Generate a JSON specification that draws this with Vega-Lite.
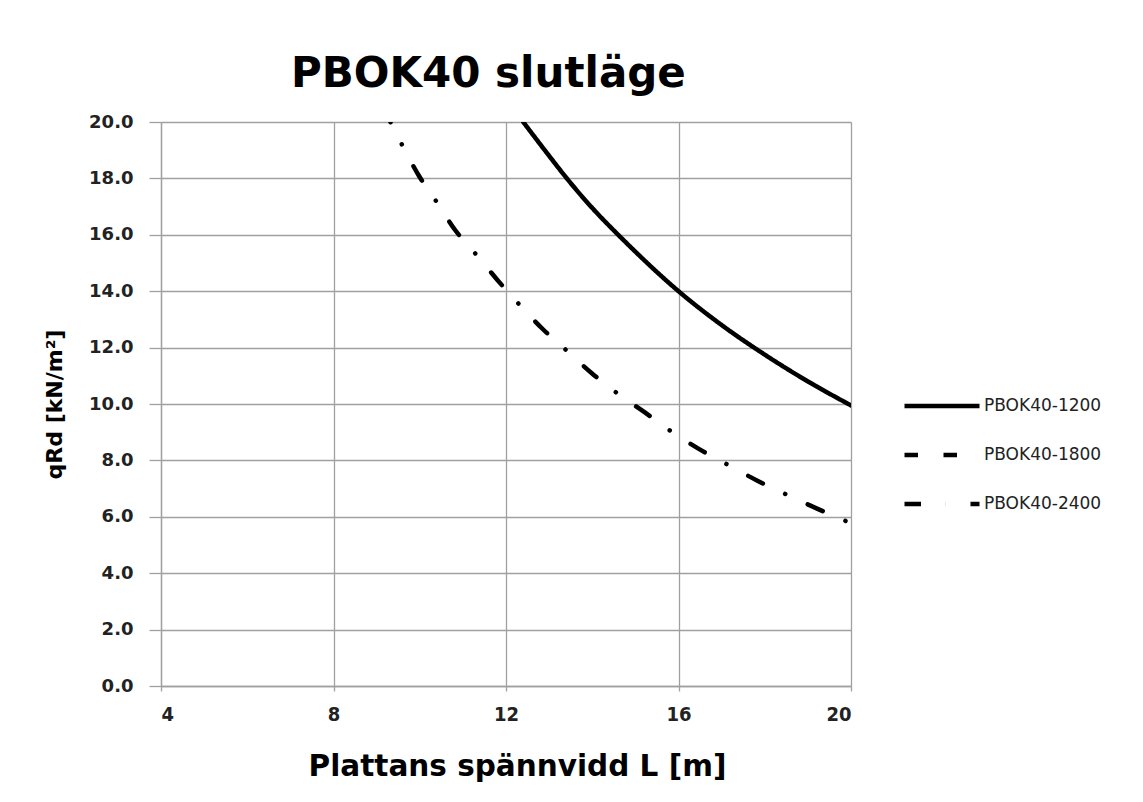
{
  "$schema": "https://vega.github.io/schema/vega-lite/v6.json",
  "width": 690,
  "height": 564,
  "autosize": {"type": "none"},
  "padding": {"left": 161, "top": 122, "right": 292, "bottom": 116},
  "background": "white",
  "title": {
    "text": "PBOK40 slutläge",
    "anchor": "start",
    "frame": "group",
    "dx": 130,
    "font": "DejaVu Sans",
    "fontSize": 42,
    "fontWeight": "bold",
    "color": "black",
    "baseline": "alphabetic",
    "offset": -16
  },
  "data": {
    "values": [
      {"serie": "PBOK40-1200", "L": 12.4, "q": 20.0},
      {"serie": "PBOK40-1200", "L": 13.0, "q": 18.8},
      {"serie": "PBOK40-1200", "L": 13.4, "q": 18.02},
      {"serie": "PBOK40-1200", "L": 14.0, "q": 16.95},
      {"serie": "PBOK40-1200", "L": 14.7, "q": 15.85},
      {"serie": "PBOK40-1200", "L": 15.0, "q": 15.4},
      {"serie": "PBOK40-1200", "L": 16.0, "q": 14.0},
      {"serie": "PBOK40-1200", "L": 17.0, "q": 12.8},
      {"serie": "PBOK40-1200", "L": 18.0, "q": 11.75},
      {"serie": "PBOK40-1200", "L": 19.0, "q": 10.8},
      {"serie": "PBOK40-1200", "L": 20.0, "q": 9.95},
      {"serie": "PBOK40-2400", "L": 9.32, "q": 20.0},
      {"serie": "PBOK40-2400", "L": 9.6, "q": 19.16},
      {"serie": "PBOK40-2400", "L": 9.97, "q": 18.12},
      {"serie": "PBOK40-2400", "L": 10.39, "q": 17.17},
      {"serie": "PBOK40-2400", "L": 10.82, "q": 16.17},
      {"serie": "PBOK40-2400", "L": 11.32, "q": 15.28},
      {"serie": "PBOK40-2400", "L": 11.8, "q": 14.4},
      {"serie": "PBOK40-2400", "L": 12.32, "q": 13.51},
      {"serie": "PBOK40-2400", "L": 12.85, "q": 12.66},
      {"serie": "PBOK40-2400", "L": 13.41, "q": 11.89},
      {"serie": "PBOK40-2400", "L": 13.99, "q": 11.09},
      {"serie": "PBOK40-2400", "L": 14.58, "q": 10.38},
      {"serie": "PBOK40-2400", "L": 15.22, "q": 9.7},
      {"serie": "PBOK40-2400", "L": 15.84, "q": 9.02},
      {"serie": "PBOK40-2400", "L": 16.48, "q": 8.4},
      {"serie": "PBOK40-2400", "L": 17.15, "q": 7.84},
      {"serie": "PBOK40-2400", "L": 17.83, "q": 7.28},
      {"serie": "PBOK40-2400", "L": 18.53, "q": 6.77},
      {"serie": "PBOK40-2400", "L": 19.2, "q": 6.3},
      {"serie": "PBOK40-2400", "L": 19.91, "q": 5.83},
      {"serie": "PBOK40-2400", "L": 20.0, "q": 5.77}
    ]
  },
  "mark": {
    "type": "line",
    "color": "black",
    "strokeWidth": 4.5,
    "strokeCap": "round",
    "interpolate": "monotone",
    "strokeDashOffset": 16.25,
    "clip": true
  },
  "encoding": {
    "x": {
      "field": "L",
      "type": "quantitative",
      "scale": {"domain": [4, 20], "nice": false, "zero": false},
      "axis": {
        "values": [4, 8, 12, 16, 20],
        "title": "Plattans spännvidd L [m]",
        "tickSize": 5,
        "labelPadding": 13,
        "labelFont": "DejaVu Sans Condensed",
        "labelFontSize": 20,
        "labelFontWeight": "bold",
        "titleFont": "DejaVu Sans",
        "titleFontSize": 29.5,
        "titleFontWeight": "bold",
        "titleColor": "black",
        "titlePadding": 28,
        "titleX": 356
      }
    },
    "y": {
      "field": "q",
      "type": "quantitative",
      "scale": {"domain": [0, 20], "nice": false},
      "axis": {
        "values": [0, 2, 4, 6, 8, 10, 12, 14, 16, 18, 20],
        "format": ".1f",
        "title": "qRd [kN/m²]",
        "tickSize": 12,
        "labelPadding": 16,
        "labelFont": "DejaVu Sans",
        "labelFontSize": 18,
        "labelFontWeight": "bold",
        "titleFont": "DejaVu Sans",
        "titleFontSize": 22,
        "titleFontWeight": "bold",
        "titleColor": "black",
        "titlePadding": 22
      }
    },
    "strokeDash": {
      "field": "serie",
      "type": "nominal",
      "scale": {
        "domain": ["PBOK40-1200", "PBOK40-1800", "PBOK40-2400"],
        "range": [[1, 0], [13.5, 25.5], [16.5, 24.7, 0.1, 24.7]]
      },
      "legend": {
        "title": null,
        "orient": "none",
        "legendX": 741,
        "legendY": 244,
        "symbolType": "stroke",
        "symbolSize": 5625,
        "symbolStrokeWidth": 4.5,
        "symbolStrokeColor": "black",
        "labelFont": "DejaVu Sans",
        "labelFontSize": 17,
        "labelColor": "#222222",
        "labelOffset": 2,
        "rowPadding": -28,
        "padding": 0
      }
    }
  },
  "config": {
    "view": {"stroke": null},
    "axis": {
      "gridColor": "#a0a0a0",
      "gridWidth": 1.3,
      "gridOpacity": 1,
      "domainColor": "#a0a0a0",
      "domainWidth": 1.3,
      "tickColor": "#a0a0a0",
      "tickWidth": 1.3,
      "labelColor": "#222222"
    }
  }
}
